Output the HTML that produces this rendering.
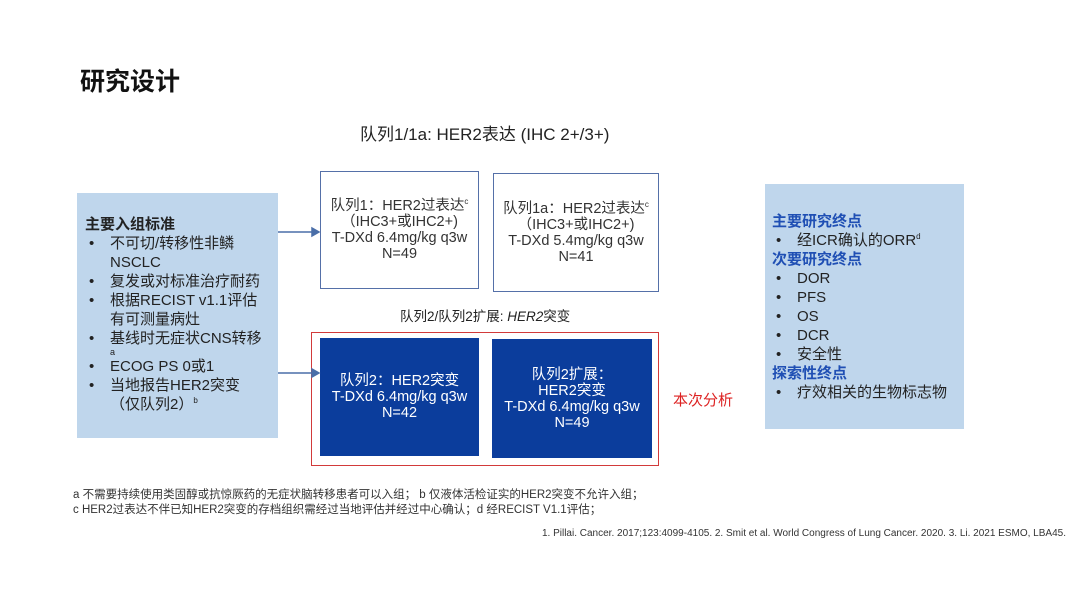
<!DOCTYPE html>
<html><head><meta charset="utf-8"><style>
body{margin:0;width:1080px;height:608px;background:#fff;position:relative;overflow:hidden;font-family:"Liberation Sans","Noto Sans CJK SC",sans-serif;color:#222}
.a{position:absolute}
.t{left:80px;top:62px;font-size:25px;font-weight:bold;color:#111}
.lb{left:77px;top:193px;width:201px;height:245px;background:#bfd6ec}
.rb{left:765px;top:184px;width:199px;height:245px;background:#bfd6ec}
.lb>div>div,.rb>div>div{font-size:15px;line-height:19px;white-space:nowrap}
.wb{border:1.5px solid #5570a8;background:#fff;box-sizing:border-box;display:flex;align-items:center;justify-content:center;text-align:center;font-size:14.5px;line-height:16px;color:#333}
.db{background:#0b3d9c;color:#fff;display:flex;align-items:center;justify-content:center;text-align:center;font-size:14.5px;line-height:16px}
.bl{padding-left:25px;text-indent:-25px}
.bl::before{content:"•";display:inline-block;width:25px;text-indent:0;padding-left:4px;box-sizing:border-box}
.h{font-weight:bold;color:#1f4fb4}
sup{font-size:8px;line-height:0}
.fn{font-size:11.5px;color:#333;line-height:15px}
</style></head><body>
<div class="a t">研究设计</div>
<div class="a" style="left:360px;top:120px;font-size:17px;color:#222">队列1/1a: HER2表达 (IHC 2+/3+)</div>
<div class="a lb"><div style="padding:22px 0 0 8px">
<div style="font-weight:bold">主要入组标准</div>
<div class="bl">不可切/转移性非鳞<br>NSCLC</div>
<div class="bl">复发或对标准治疗耐药</div>
<div class="bl">根据RECIST v1.1评估<br>有可测量病灶</div>
<div class="bl">基线时无症状CNS转移</div>
<div style="font-size:9px;line-height:9px;padding-left:25px">a</div>
<div class="bl">ECOG PS 0或1</div>
<div class="bl">当地报告HER2突变<br>（仅队列2）<sup>b</sup></div>
</div></div>
<div class="a wb" style="left:320px;top:171px;width:159px;height:118px"><div>队列1：HER2过表达<sup>c</sup><br>（IHC3+或IHC2+)<br>T-DXd 6.4mg/kg q3w<br>N=49</div></div>
<div class="a wb" style="left:493px;top:173px;width:166px;height:119px"><div>队列1a：HER2过表达<sup>c</sup><br>（IHC3+或IHC2+)<br>T-DXd 5.4mg/kg q3w<br>N=41</div></div>
<div class="a" style="left:400px;top:305px;font-size:13.5px">队列2/队列2扩展: <i>HER2</i>突变</div>
<div class="a" style="left:311px;top:332px;width:346px;height:132px;border:1.5px solid #d23a3a"></div>
<div class="a db" style="left:320px;top:338px;width:159px;height:118px"><div>队列2：HER2突变<br>T-DXd 6.4mg/kg q3w<br>N=42</div></div>
<div class="a db" style="left:492px;top:339px;width:160px;height:119px"><div>队列2扩展：<br>HER2突变<br>T-DXd 6.4mg/kg q3w<br>N=49</div></div>
<div class="a" style="left:673px;top:389px;font-size:15px;color:#d22">本次分析</div>
<svg class="a" style="left:0;top:0" width="1080" height="608"><g stroke="#4a6ea8" stroke-width="1.5" fill="#4a6ea8"><line x1="278" y1="232" x2="312" y2="232"/><polygon points="312,228 319,232 312,236"/><line x1="278" y1="373" x2="312" y2="373"/><polygon points="312,369 319,373 312,377"/></g></svg>
<div class="a rb"><div style="padding:28px 0 0 7px">
<div class="h">主要研究终点</div>
<div class="bl">经ICR确认的ORR<sup>d</sup></div>
<div class="h">次要研究终点</div>
<div class="bl">DOR</div><div class="bl">PFS</div><div class="bl">OS</div><div class="bl">DCR</div><div class="bl">安全性</div>
<div class="h">探索性终点</div>
<div class="bl">疗效相关的生物标志物</div>
</div></div>
<div class="a fn" style="left:73px;top:488px">a 不需要持续使用类固醇或抗惊厥药的无症状脑转移患者可以入组； b 仅液体活检证实的HER2突变不允许入组；<br>c HER2过表达不伴已知HER2突变的存档组织需经过当地评估并经过中心确认；d 经RECIST V1.1评估；</div>
<div class="a fn" style="right:14px;top:526px;font-size:10px">1. Pillai. Cancer. 2017;123:4099-4105. 2. Smit et al. World Congress of Lung Cancer. 2020. 3. Li. 2021 ESMO, LBA45.</div>
</body></html>
